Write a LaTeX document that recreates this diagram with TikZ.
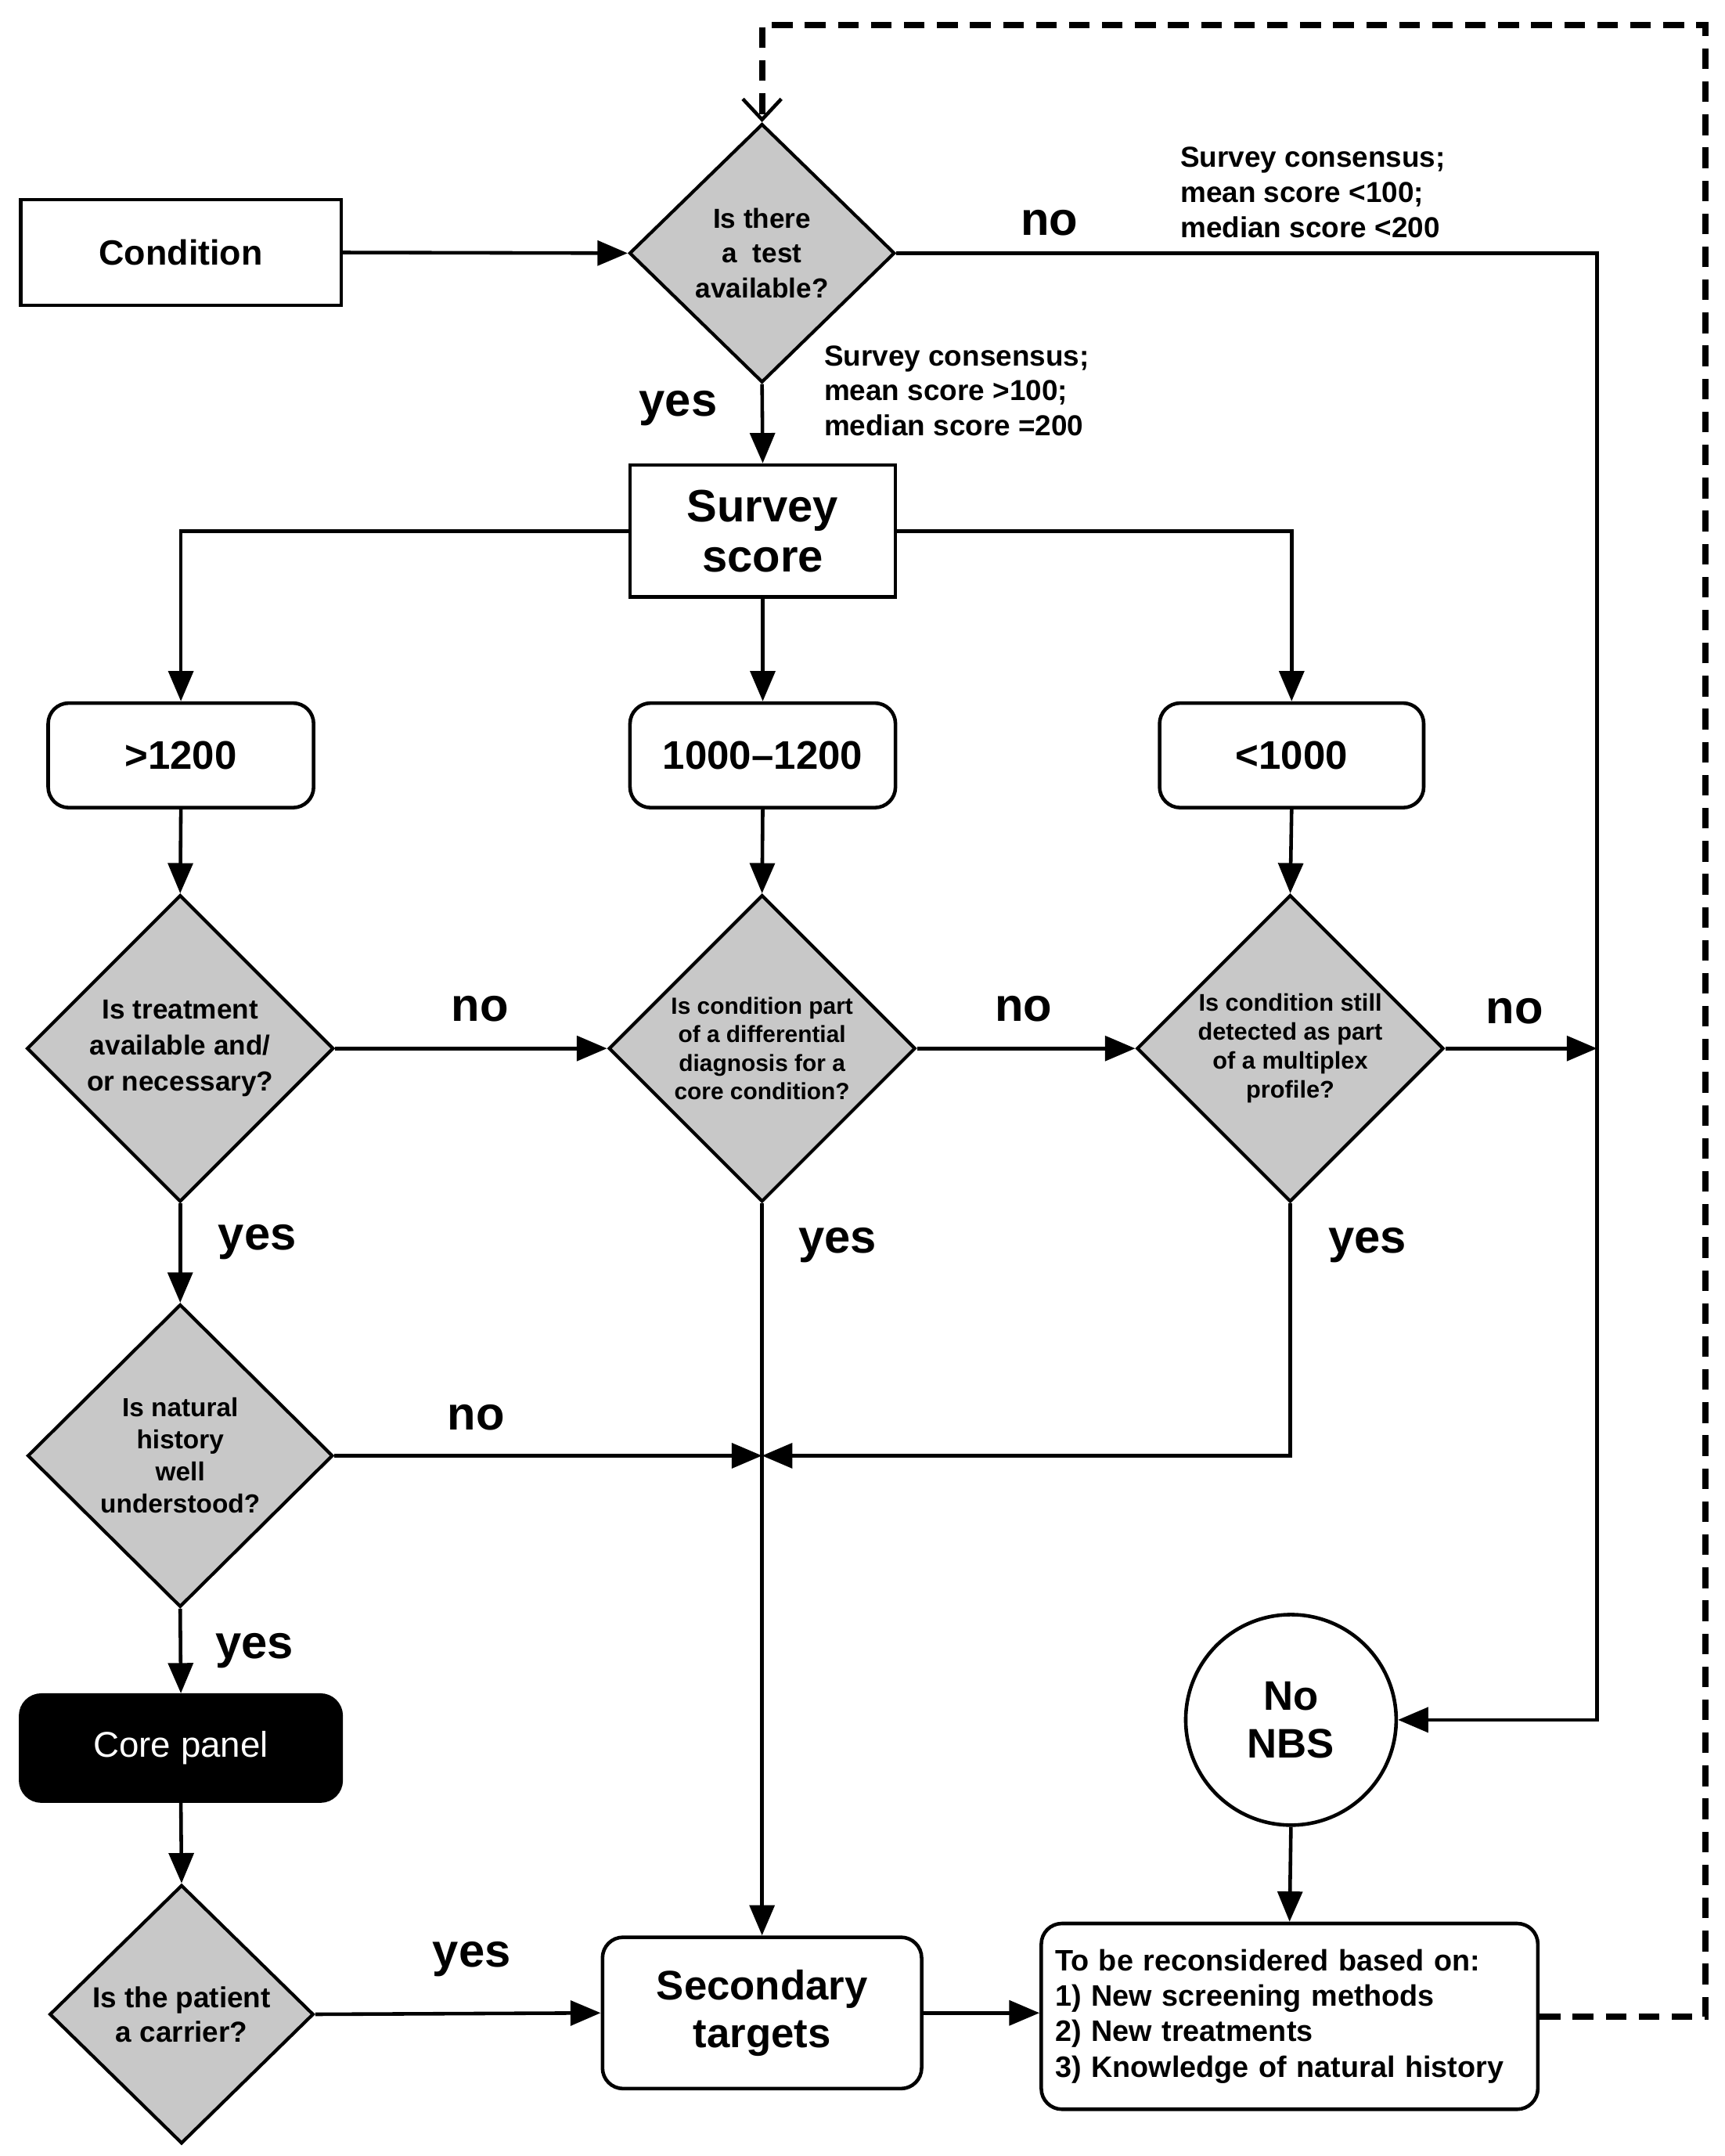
\documentclass[tikz,border=0pt]{standalone}
\usepackage{fontspec}
\setmainfont{Liberation Sans}
\usetikzlibrary{shapes.geometric,arrows.meta}
\definecolor{dgray}{RGB}{200,200,200}
\newcommand\fsz[2]{\fontsize{#1}{#2}\selectfont\bfseries}
\begin{document}
\begin{tikzpicture}[x=1pt,y=-1pt,
  sqbox/.style={draw, line width=2.6pt, inner sep=0pt, align=center},
  rbox/.style={draw, rounded corners=15pt, line width=2.6pt, inner sep=0pt, align=center},
  dec/.style={diamond, draw, fill=dgray, line width=2.4pt, inner sep=0pt, aspect=1, align=center},
  conn/.style={line width=2.6pt, -{Triangle[length=22pt,width=18pt]}},
  plainline/.style={line width=2.6pt},
  dashline/.style={line width=4.5pt, dash pattern=on 15pt off 9pt, -{Straight Barb[length=15pt,width=28pt,line width=2.6pt]}},
  lbl/.style={font=\fsz{34}{38}, inner sep=0pt},
  note/.style={font=\fsz{21}{25.5}, align=left, inner sep=0pt, anchor=west}
]
\useasboundingbox (0,0) rectangle (1254,1567);

% nodes
\node[sqbox, minimum width=233pt, minimum height=77pt, font=\fsz{25.5}{30}] (cond) at (131.5,183.5) {Condition};
\node[dec, minimum width=193pt, minimum height=188pt, font=\fsz{20}{25.5}] (test) at (554,184) {Is there\\a~~test\\available?};
\node[sqbox, minimum width=193pt, minimum height=96pt, font=\fsz{33}{36}] (survey) at (554.5,386) {Survey\\score};

\node[rbox, minimum width=193pt, minimum height=76pt, font=\fsz{29}{32}] (g1200) at (131.5,549) {>1200};
\node[rbox, minimum width=193pt, minimum height=76pt, font=\fsz{29}{32}] (mid) at (554.5,549) {1000--1200};
\node[rbox, minimum width=192pt, minimum height=76pt, font=\fsz{29}{32}] (l1000) at (939,549) {<1000};

\node[dec, minimum width=223pt, minimum height=223pt, font=\fsz{20}{26}] (treat) at (131,762) {Is treatment\\available and/\\or necessary?};
\node[dec, minimum width=223pt, minimum height=223pt, font=\fsz{17}{20.7}] (diff) at (554,762) {Is condition part\\of a differential\\diagnosis for a\\core condition?};
\node[dec, minimum width=223pt, minimum height=223pt, font=\fsz{17.5}{21}] (multi) at (938,762) {Is condition still\\detected as part\\of a multiplex\\profile?};

\node[dec, minimum width=222pt, minimum height=220pt, font=\fsz{19}{23.3}] (nat) at (131,1058) {Is natural\\history\\well\\understood?};

\node[draw, fill=black, rounded corners=15pt, line width=2.6pt, minimum width=233pt, minimum height=77pt, inner sep=0pt, text=white, font=\fontsize{26}{30}\selectfont] (core) at (131.5,1270.5) {Core panel};

\node[dec, minimum width=192pt, minimum height=188pt, font=\fsz{21}{25}] (carrier) at (132,1464) {Is the patient\\a carrier?};

\node[rbox, minimum width=232pt, minimum height=110pt, font=\fsz{30}{35}] (sec) at (554,1463) {Secondary\\targets};

\node[circle, draw, line width=2.6pt, minimum size=153pt, inner sep=0pt, align=center, font=\fsz{30}{35}] (nonbs) at (938.5,1250) {No\\NBS};

\node[rbox, minimum width=361pt, minimum height=135pt, text width=341pt, align=left, font=\fsz{21.5}{25.7}] (recon) at (937.5,1465.5) {To be reconsidered based on:\\1) New screening methods\\2) New treatments\\3) Knowledge of natural history};

% notes
\node[note] (noteA) at (858,140) {Survey consensus;\\mean score <100;\\median score <200};
\node[note] (noteB) at (599,284) {Survey consensus;\\mean score >100;\\median score =200};

% labels
\node[lbl] (no1) at (763,162) {no};
\node[lbl] (yes1) at (493,297) {yes};
\node[lbl] (no2) at (349,733) {no};
\node[lbl] (no3) at (744,733) {no};
\node[lbl] (no4) at (1101,735) {no};
\node[lbl] (yes2) at (187,903) {yes};
\node[lbl] (yes3) at (609,905) {yes};
\node[lbl] (yes4) at (994,905) {yes};
\node[lbl] (no5) at (346,1030) {no};
\node[lbl] (yes5) at (185,1200) {yes};
\node[lbl] (yes6) at (343,1424) {yes};

% helper coordinates
\coordinate (rtop) at (1161,184);
\coordinate (junc) at (diff.south |- nat.east);
\coordinate (dtr) at (1240,18);

% connectors
\draw[conn] (cond.east) -- (test.west);
\draw[conn] (test.south) -- (survey.north);
\draw[conn] (survey.west) -| (g1200.north);
\draw[conn] (survey.south) -- (mid.north);
\draw[conn] (survey.east) -| (l1000.north);
\draw[conn] (g1200.south) -- (treat.north);
\draw[conn] (mid.south) -- (diff.north);
\draw[conn] (l1000.south) -- (multi.north);
\draw[conn] (treat.east) -- (diff.west);
\draw[conn] (diff.east) -- (multi.west);
\draw[conn] (test.east) -- (rtop) |- (nonbs.east);
\draw[conn] (multi.east) -- (multi.east -| rtop);
\draw[conn] (treat.south) -- (nat.north);
\draw[conn] (diff.south) -- (sec.north);
\draw[conn] (nat.east) -- (junc);
\draw[conn] (multi.south) |- (junc);
\draw[conn] (nat.south) -- (core.north);
\draw[conn] (core.south) -- (carrier.north);
\draw[conn] (carrier.east) -- (sec.west);
\draw[conn] (sec.east) -- (sec.east -| recon.west);
\draw[conn] (nonbs.south) -- (recon.north);
\draw[dashline] (recon.east) -| (dtr) -| (test.north);
\end{tikzpicture}
\end{document}
